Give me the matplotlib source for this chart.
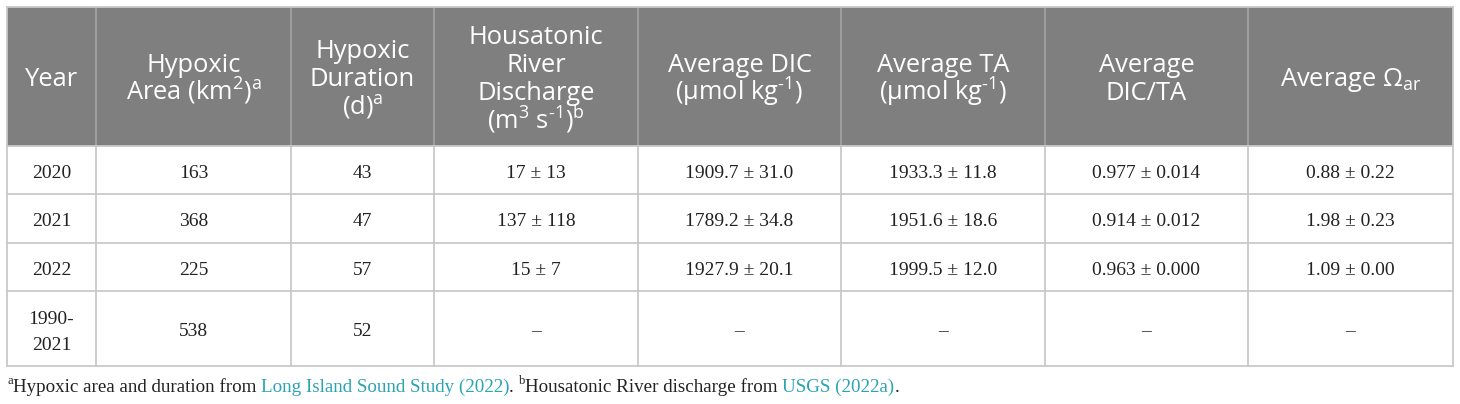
import matplotlib
matplotlib.use("Agg")
import matplotlib.pyplot as plt
from matplotlib.patches import Rectangle

# ---------------- data ----------------
years = ["2020", "2021", "2022", "1990-\n2021"]
hypoxic_area = [163, 368, 225, 538]
hypoxic_duration = [43, 47, 57, 52]
discharge_mean = [17, 137, 15, None]
discharge_sd = [13, 118, 7, None]
dic_mean = [1909.7, 1789.2, 1927.9, None]
dic_sd = [31.0, 34.8, 20.1, None]
ta_mean = [1933.3, 1951.6, 1999.5, None]
ta_sd = [11.8, 18.6, 12.0, None]
dicta_mean = [0.977, 0.914, 0.963, None]
dicta_sd = [0.014, 0.012, 0.000, None]
omega_mean = [0.88, 1.98, 1.09, None]
omega_sd = [0.22, 0.23, 0.00, None]

HY = "\u2010"
headers = [
    ["Year"],
    ["Hypoxic", "Area (km$^{2}$)$^{\\mathrm{a}}$"],
    ["Hypoxic", "Duration", "(d)$^{\\mathrm{a}}$"],
    ["Housatonic", "River", "Discharge", "(m$^{3}$ s$^{\\mathrm{" + HY + "1}}$)$^{\\mathrm{b}}$"],
    ["Average DIC", "(µmol kg$^{\\mathrm{" + HY + "1}}$)"],
    ["Average TA", "(µmol kg$^{\\mathrm{" + HY + "1}}$)"],
    ["Average", "DIC/TA"],
    ["Average Ω$_{\\mathrm{ar}}$"],
]

footnote_parts = [
    ("a", "sup", "#222222"),
    ("Hypoxic area and duration from ", "txt", "#222222"),
    ("Long Island Sound Study (2022)", "txt", "#2aa3b3"),
    (". ", "txt", "#222222"),
    ("b", "sup", "#222222"),
    ("Housatonic River discharge from ", "txt", "#222222"),
    ("USGS (2022a)", "txt", "#2aa3b3"),
    (".", "txt", "#222222"),
]

# ---------------- layout ----------------
col_edges = [7, 96, 291, 434, 638, 841, 1045, 1248, 1453]
row_edges = [7, 146, 194, 243, 291, 366]

plt.rcParams["mathtext.fontset"] = "custom"
plt.rcParams["mathtext.rm"] = "Open Sans"
plt.rcParams["mathtext.it"] = "Open Sans:italic"
plt.rcParams["mathtext.bf"] = "Open Sans:bold"


def fmt(m, s, d):
    if m is None:
        return "–"
    return f"{m:.{d}f} ± {s:.{d}f}"


body_cols = [
    years,
    [str(v) for v in hypoxic_area],
    [str(v) for v in hypoxic_duration],
    [fmt(m, s, 0) for m, s in zip(discharge_mean, discharge_sd)],
    [fmt(m, s, 1) for m, s in zip(dic_mean, dic_sd)],
    [fmt(m, s, 1) for m, s in zip(ta_mean, ta_sd)],
    [fmt(m, s, 3) for m, s in zip(dicta_mean, dicta_sd)],
    [fmt(m, s, 2) for m, s in zip(omega_mean, omega_sd)],
]

fig = plt.figure(figsize=(14.6, 4.04), dpi=100)
ax = fig.add_axes([0, 0, 1, 1])
ax.set_xlim(0, 1460)
ax.set_ylim(404, 0)
ax.axis("off")

header_bg = "#7f7f7f"
grid_col = "#c9c9c9"
header_line = "#a2a2a2"
text_col = "#222222"

# header background
ax.add_patch(Rectangle((col_edges[0], row_edges[0]), col_edges[-1] - col_edges[0],
                       row_edges[1] - row_edges[0], facecolor=header_bg, edgecolor="none", zorder=1))

# vertical lines
for x in col_edges:
    ax.plot([x, x], [row_edges[1], row_edges[-1]], color=grid_col, lw=1.3, zorder=2)
    ax.plot([x, x], [row_edges[0], row_edges[1]],
            color=(header_line if x not in (col_edges[0], col_edges[-1]) else grid_col), lw=1.3, zorder=2)
# horizontal lines
for y in row_edges:
    ax.plot([col_edges[0], col_edges[-1]], [y, y], color=grid_col, lw=1.3, zorder=2)

# header text (each line placed on a fixed pitch)
hy = (row_edges[0] + row_edges[1]) / 2 + 0.5
pitch = 28.3
for i, lines in enumerate(headers):
    cx = (col_edges[i] + col_edges[i + 1]) / 2
    n = len(lines)
    for k, ln in enumerate(lines):
        yc = hy + (k - (n - 1) / 2) * pitch
        ax.text(cx, yc + 9, ln, ha="center", va="baseline", color="white",
                fontsize=18.4, family="Open Sans", zorder=3)

# body text
for r in range(4):
    cy = (row_edges[r + 1] + row_edges[r + 2]) / 2
    for c in range(8):
        cx = (col_edges[c] + col_edges[c + 1]) / 2
        s = body_cols[c][r]
        parts = s.split("\n")
        n = len(parts)
        for k, p in enumerate(parts):
            yc = cy + 1.5 + (k - (n - 1) / 2) * 26
            ax.text(cx, yc + 6.5, p, ha="center", va="baseline",
                    color=text_col, fontsize=14, family="Liberation Serif", zorder=3)

# footnote
fig.canvas.draw()
renderer = fig.canvas.get_renderer()
x = 7
base = 392
for s, kind, col in footnote_parts:
    if kind == "sup":
        t = ax.text(x, base - 8, s, fontsize=9, family="Liberation Serif", color=col,
                    ha="left", va="baseline")
    else:
        t = ax.text(x, base, s, fontsize=13.7, family="Liberation Serif", color=col,
                    ha="left", va="baseline")
    bb = t.get_window_extent(renderer)
    x += bb.width

fig.savefig("out.png", dpi=100)
